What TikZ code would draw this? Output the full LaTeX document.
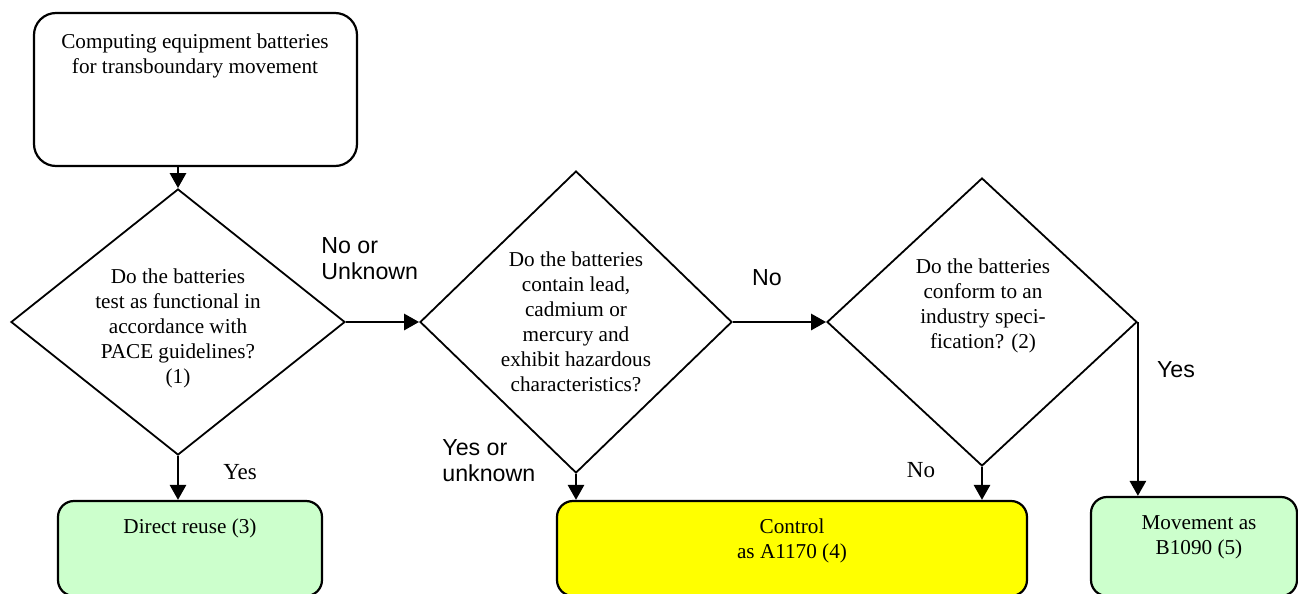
\documentclass[tikz,border=0pt]{standalone}
\usepackage{fontspec}
\setmainfont{Liberation Serif}
\setsansfont{Liberation Sans}
\usepackage{tikz}
\usetikzlibrary{arrows.meta,shapes.geometric,positioning}
\definecolor{ReuseGreen}{HTML}{CCFFCC}
\definecolor{ControlYellow}{HTML}{FFFF00}
\tikzset{
    txt/.style={align=center, inner sep=0pt, font=\fontsize{10.6}{12.5}\selectfont},
    box/.style={draw, line width=1.1pt, rounded corners=8pt},
    decision/.style={draw, diamond, line width=0.9pt, inner sep=0pt},
    flow/.style={-{Triangle[width=8pt,length=7.5pt]}, line width=1.4pt},
    answer/.style={inner sep=0pt, align=left, font=\sffamily\fontsize{11.6}{13}\selectfont},
    answerrm/.style={inner sep=0pt, font=\fontsize{11.5}{13}\selectfont}
}

\begin{document}
\begin{tikzpicture}[x=0.5pt, y=-0.5pt]
        \useasboundingbox (0,0) rectangle (1298,594);
        \clip (0,0) rectangle (1298,594);

        % boxes
        \node[box, rounded corners=11pt, minimum width=161.5pt, minimum height=76.5pt] (start) at (195.5,89.5) {};
        \node[box, fill=ReuseGreen, minimum width=132pt, minimum height=47.5pt] (reuse) at (190,548.5) {};
        \node[box, fill=ControlYellow, minimum width=235pt, minimum height=47.5pt] (ctrl) at (792,548.5) {};
        \node[box, fill=ReuseGreen, minimum width=103pt, minimum height=49.5pt] (move) at (1194,546.5) {};

        % decisions
        \node[decision, minimum width=167pt, minimum height=133pt] (pace) at (178,322) {};
        \node[decision, minimum width=156pt, minimum height=151pt] (metal) at (576,322) {};
        \node[decision, minimum width=155pt, minimum height=144pt] (spec) at (982,322) {};

        % texts
        \node[txt] (starttxt) at (195,56) {Computing equipment batteries\\for transboundary movement};
        \node[txt] (pacetxt) at (178,328) {Do the batteries\\test as functional in\\accordance with\\PACE guidelines?\\(1)};
        \node[txt] (metaltxt) at (576,322) {Do the batteries\\contain lead,\\cadmium or\\mercury and\\exhibit hazardous\\characteristics?};
        \node[txt] (spectxt) at (983,306) {Do the batteries\\conform to an\\industry speci-\\fication? (2)};
        \node[txt] (reusetxt) at (190,528) {Direct reuse (3)};
        \node[txt] (ctrltxt) at (792,540.5) {Control\\as A1170 (4)};
        \node[txt] (movetxt) at (1199,537.5) {Movement as\\B1090 (5)};

        % connectors
        \draw[flow] (start.south -| pace.north) -- (pace.north);
        \draw[flow] (pace.east) -- (metal.west);
        \draw[flow] (metal.east) -- (spec.west);
        \draw[flow] (spec.east) -- (spec.east |- move.north);
        \draw[flow] (pace.south) -- (pace.south |- reuse.north);
        \draw[flow] (metal.south) -- (metal.south |- ctrl.north);
        \draw[flow] (spec.south) -- (spec.south |- ctrl.north);

        % answers
        \node[answer, anchor=west] (nounk) at (321,258.5) {No or\\Unknown};
        \node[answer] (nometal) at (767,278) {No};
        \node[answer] (yesspec) at (1176,370) {Yes};
        \node[answer, anchor=west] (yesunk) at (442,460.5) {Yes or\\unknown};
        \node[answerrm] (yespace) at (240,472) {Yes};
        \node[answerrm] (nospec) at (921,470) {No};
    \end{tikzpicture}
\end{document}
